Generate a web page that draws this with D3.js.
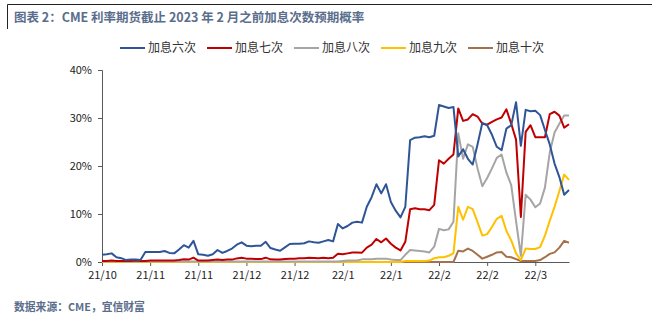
<!DOCTYPE html>
<html>
<head>
<meta charset="utf-8">
<script src="https://cdn.jsdelivr.net/npm/d3@7"></script>
<style>
  html, body { margin: 0; padding: 0; background: #fff; }
  svg { display: block; }
</style>
</head>
<body>
<svg id="chart" width="659" height="330"></svg>
<script>
const titleText = "图表 2：CME 利率期货截止 2023 年 2 月之前加息次数预期概率";
const sourceText = "数据来源：CME，宜信财富";
const seriesNames = ["加息六次", "加息七次", "加息八次", "加息九次", "加息十次"];
const seriesColors = ["#2F5597", "#C00000", "#A5A5A5", "#FFC000", "#A5714A"];
const tickIndex = [0, 10, 20, 30, 40, 50, 60, 70, 80, 90];
const tickLabels = ["21/10", "21/11", "21/11", "21/12", "21/12", "22/1", "22/1", "22/2", "22/2", "22/3"];
const yTicks = [0, 10, 20, 30, 40];

const hike6 = [1.5,1.6,1.8,1.0,0.8,0.4,0.5,0.5,0.4,2.1,
  2.1,2.1,2.1,2.3,1.9,1.8,2.6,3.5,3.0,4.4,
  1.6,1.5,1.3,1.6,2.5,1.9,2.3,2.8,3.6,4.1,
  3.4,3.3,3.4,3.4,4.2,2.9,2.6,2.35,3.06,3.75,
  3.8,3.8,3.9,4.3,4.1,4.0,4.3,4.6,4.3,7.9,
  7.0,7.5,8.2,8.4,8.2,11.5,13.5,16.2,14.3,16.2,
  12.5,10.7,9.3,11.5,25.4,25.9,26.0,26.2,26.0,26.3,
  32.7,32.4,32.1,32.3,22.0,23.5,21.5,20.3,24.5,29.0,
  28.5,26.5,24.0,23.3,27.8,28.5,33.3,24.2,31.7,31.4,
  31.5,30.6,27.5,24.5,20.5,17.7,14.0,15.0];
const hike7 = [0.2,0.2,0.3,0.2,0.2,0.2,0.2,0.3,0.2,0.2,
  0.3,0.3,0.3,0.3,0.3,0.3,0.4,0.55,0.5,0.9,
  0.3,0.3,0.3,0.4,0.5,0.4,0.5,0.5,0.75,0.9,
  0.7,0.7,0.6,0.6,0.9,0.55,0.5,0.5,0.6,0.7,
  0.7,0.8,0.8,0.9,0.85,0.8,0.9,0.8,0.9,1.7,
  1.6,1.8,2.0,2.0,1.95,3.0,3.6,4.8,4.1,4.9,
  3.8,3.0,2.4,4.2,11.0,11.2,11.0,11.0,10.8,11.9,
  21.2,20.5,21.5,22.4,32.0,29.4,29.7,30.8,30.3,28.8,
  28.6,29.2,29.7,30.1,31.8,28.8,25.5,9.4,27.1,28.5,
  26.0,26.0,26.0,30.8,31.3,30.5,28.0,28.7];
const hike8 = [0.1,0.1,0.1,0.1,0.1,0.1,0.1,0.1,0.1,0.1,
  0.1,0.1,0.1,0.1,0.1,0.1,0.1,0.1,0.1,0.1,
  0.1,0.1,0.1,0.1,0.1,0.1,0.1,0.1,0.1,0.1,
  0.1,0.1,0.1,0.1,0.1,0.1,0.1,0.1,0.1,0.1,
  0.1,0.1,0.1,0.1,0.1,0.1,0.1,0.1,0.1,0.1,
  0.2,0.3,0.3,0.3,0.55,0.55,0.55,0.7,0.7,0.7,
  0.5,0.4,0.4,1.5,2.5,2.4,2.3,2.2,2.0,3.2,
  6.9,6.6,6.8,8.4,26.8,21.5,24.5,24.0,19.5,15.8,
  17.5,19.5,21.7,22.4,18.6,16.0,8.5,1.3,14.0,13.0,
  11.4,12.2,15.5,22.8,27.0,28.8,30.5,30.5];
const hike9 = [0,0,0,0,0,0,0,0,0,0,
  0,0,0,0,0,0,0,0,0,0,
  0,0,0,0,0,0,0,0,0,0,
  0,0,0,0,0,0,0,0,0,0,
  0,0,0,0,0,0,0,0,0,0,
  0,0,0,0,0,0,0,0,0,0,
  0,0,0,0.2,0.2,0.2,0.2,0.2,0.3,0.8,
  1.0,1.0,1.3,1.8,11.5,8.8,11.5,11.0,8.3,5.5,
  5.8,7.3,9.0,9.6,6.5,4.5,1.8,0.4,2.8,2.7,
  2.7,3.1,5.5,8.6,11.5,14.8,18.2,17.1];
const hike10 = [0,0,0,0,0,0,0,0,0,0,
  0,0,0,0,0,0,0,0,0,0,
  0,0,0,0,0,0,0,0,0,0,
  0,0,0,0,0,0,0,0,0,0,
  0,0,0,0,0,0,0,0,0,0,
  0,0,0,0,0,0,0,0,0,0,
  0,0,0,0,0,0,0,0,0,0,
  0,0,0,0,2.35,2.2,2.8,2.3,1.5,0.7,
  1.1,1.5,2.0,2.1,1.1,1.0,0.6,0.2,0.2,0.2,
  0.2,0.4,1.0,1.7,2.0,3.0,4.4,4.0];

const seriesValues = [hike6, hike7, hike8, hike9, hike10];

const svg = d3.select("#chart");
const font = "'Noto Sans CJK SC', 'Noto Sans', sans-serif";
const titleColor = "#5A6E8C";

// frame lines
svg.append("line").attr("x1", 7.5).attr("x2", 652).attr("y1", 4.5).attr("y2", 4.5)
  .attr("stroke", "#222").attr("stroke-width", 1);
svg.append("line").attr("x1", 7.5).attr("x2", 7.5).attr("y1", 4.5).attr("y2", 29)
  .attr("stroke", "#222").attr("stroke-width", 1);

svg.append("text").attr("x", 14).attr("y", 21.5).text(titleText)
  .attr("font-family", font).attr("font-size", 12.5).attr("font-weight", "bold")
  .attr("fill", titleColor);

svg.append("text").attr("x", 14).attr("y", 311).text(sourceText)
  .attr("font-family", font).attr("font-size", 10.8).attr("font-weight", "bold")
  .attr("fill", titleColor);

const n = hike6.length;
const x = d3.scaleLinear().domain([0, n - 1]).range([102, 569]);
const y = d3.scaleLinear().domain([0, 40]).range([262, 70]);

// axes
const yAxis = d3.axisLeft(y).tickValues(yTicks).tickFormat(d => d + "%").tickSize(4).tickPadding(6);
const gy = svg.append("g").attr("transform", "translate(102,0)").call(yAxis);
gy.select(".domain").attr("stroke", "#595959");
gy.selectAll(".tick line").attr("stroke", "#595959");
gy.selectAll(".tick text").attr("font-family", font).attr("font-size", 11).attr("fill", "#222");

const xAxis = d3.axisBottom(x).tickValues(tickIndex).tickFormat((d, i) => tickLabels[i]).tickSize(4).tickSizeOuter(0).tickPadding(5);
const gx = svg.append("g").attr("transform", "translate(0,262)").call(xAxis);
gx.select(".domain").attr("stroke", "#595959");
gx.selectAll(".tick line").attr("stroke", "#595959");
gx.selectAll(".tick text").attr("font-family", font).attr("font-size", 11).attr("fill", "#222");

// lines
const line = d3.line().x((d, i) => x(i)).y(d => y(d));
const order = [4, 3, 2, 1, 0];
order.forEach(k => {
  svg.append("path").datum(seriesValues[k])
    .attr("d", line)
    .attr("fill", "none")
    .attr("stroke", seriesColors[k])
    .attr("stroke-width", 2)
    .attr("stroke-linejoin", "round");
});

// legend
const legend = svg.append("g").attr("transform", "translate(120,48)");
seriesNames.forEach((name, i) => {
  const g = legend.append("g").attr("transform", `translate(${i * 87},0)`);
  g.append("line").attr("x1", 0).attr("x2", 25).attr("y1", 0).attr("y2", 0)
    .attr("stroke", seriesColors[i]).attr("stroke-width", 2);
  g.append("text").attr("x", 28).attr("y", 4).text(name)
    .attr("font-family", font).attr("font-size", 12).attr("fill", "#333");
});
</script>
</body>
</html>
